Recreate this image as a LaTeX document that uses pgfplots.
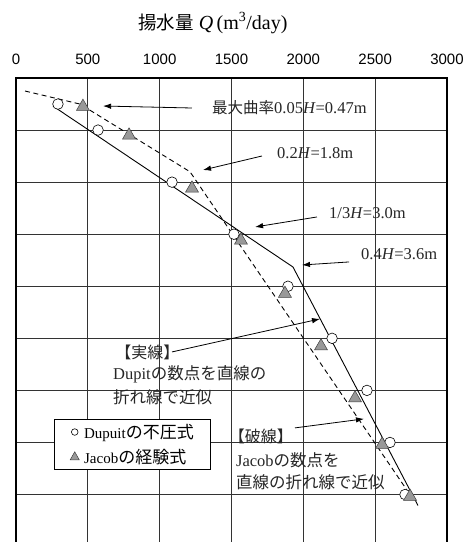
\documentclass[border=0pt]{standalone}
\usepackage{fontspec}
\setmainfont{Liberation Serif}
\setsansfont{Liberation Sans}
\newfontfamily\jp{Noto Sans CJK JP}
\usepackage{pgfplots}
\pgfplotsset{compat=1.18}
\usetikzlibrary{arrows.meta}
\begin{document}
\begin{tikzpicture}
\begin{axis}[name=ax, at={(0,0)}, anchor=north west, scale only axis,
  width=431pt, height=479pt,
  xmin=0, xmax=3000, ymin=0, ymax=9.2, y dir=reverse,
  xtick={0,500,...,3000}, ytick={0,1,...,9}, yticklabels={},
  xticklabel pos=top,
  grid=major, major grid style={black!80, line width=0.8pt},
  tick style={draw=none},
  axis line style={line width=1.8pt},
  xticklabel style={font=\sffamily\fontsize{15}{15}\selectfont, yshift=10pt},
  /pgf/number format/assume math mode=true,
  /pgf/number format/1000 sep={},
  clip=false,
  legend style={at={(axis cs:264,6.545)}, anchor=north west, draw=black, line width=0.8pt,
    fill=white, font=\fontsize{15}{16}\selectfont, cells={anchor=west},
    inner xsep=6pt, inner ysep=3pt, row sep=5pt, legend cell align=left},
]
% approximating lines
\addplot[forget plot, black, line width=0.9pt, mark=none]
  coordinates {(258,0.54) (1928,3.63) (2798,8.21)};
\addplot[forget plot, black, line width=0.9pt, mark=none, dash pattern=on 5pt off 3.5pt]
  coordinates {(63,0.25) (445,0.50) (1211,1.80) (2757,8.06)};
% Dupuit
\addplot[only marks, mark=*, mark size=5.3pt, mark options={fill=white, draw=black, line width=0.6pt},
  legend image code/.code={\path (0pt,0pt) (21pt,0pt); \draw[black, fill=white, line width=0.6pt] (14pt,0pt) circle (3.3pt);}]
  coordinates {(292,0.5) (571,1.0) (1086,2.0) (1517,3.0) (1893,4.0) (2200,5.0) (2443,6.0) (2603,7.0) (2708,8.0)};
\addlegendentry{Dupuit{\jp\fontsize{17}{17}\selectfont の不圧式}\hspace*{9pt}}
% Jacob
\addplot[only marks, mark=triangle*, mark size=7.5pt, mark options={fill=black!40, draw=black!75, line width=0.5pt},
  legend image code/.code={\path (0pt,0pt) (21pt,0pt); \draw[black!75, fill=black!40, line width=0.5pt] (14pt,-3pt) -- (18.5pt,-3pt) -- (14pt,5pt) -- (9.5pt,-3pt) -- cycle;}]
  coordinates {(466,0.55) (787,1.1) (1225,2.12) (1566,3.12) (1872,4.14) (2123,5.15) (2360,6.15) (2548,7.04) (2743,8.04)};
\addlegendentry{Jacob{\jp\fontsize{17}{17}\selectfont の経験式}\hspace*{9pt}}

% title
\node[font=\fontsize{20}{20}\selectfont] at (axis cs:1371,-1.06) {{\jp\fontsize{18.5}{18.5}\selectfont 揚水量} \textit{Q}\,(m\textsuperscript{3}/day)};

% annotations
\begin{scope}[every node/.style={anchor=west, text=black!85, inner sep=0pt, font=\fontsize{16.5}{16.5}\selectfont},
  arr/.style={black, line width=0.8pt, -{Latex[length=8pt,width=5.5pt]}}]
\node at (axis cs:1364,0.576) {{\jp\fontsize{15.5}{15.5}\selectfont 最大曲率}0.05\textit{H}=0.47m};
\draw[arr] (axis cs:1225,0.576) -- (axis cs:606,0.538);
\node at (axis cs:1817,1.44) {0.2\textit{H}=1.8m};
\draw[arr] (axis cs:1712,1.498) -- (axis cs:1302,1.767);
\node at (axis cs:2179,2.59) {1/3\textit{H}=3.0m};
\draw[arr] (axis cs:2095,2.669) -- (axis cs:1664,2.861);
\node at (axis cs:2401,3.38) {0.4\textit{H}=3.6m};
\draw[arr] (axis cs:2318,3.533) -- (axis cs:1991,3.591);

\node at (axis cs:690,5.28) {{\jp\fontsize{16}{16}\selectfont 【実線】}};
\draw[arr] (axis cs:1086,5.261) -- (axis cs:2116,4.627);
\node at (axis cs:675,5.70) {Dupit{\jp\fontsize{16.5}{16.5}\selectfont の数点を直線の}};
\node at (axis cs:675,6.125) {{\jp\fontsize{16.5}{16.5}\selectfont 折れ線で近似}};

\node at (axis cs:1480,6.893) {{\jp\fontsize{16}{16}\selectfont 【破線】}};
\draw[arr] (axis cs:1942,6.72) -- (axis cs:2422,6.547);
\node at (axis cs:1531,7.335) {Jacob{\jp\fontsize{16.5}{16.5}\selectfont の数点を}};
\node at (axis cs:1531,7.757) {{\jp\fontsize{16.5}{16.5}\selectfont 直線の折れ線で近似}};
\end{scope}
\end{axis}
\pgfresetboundingbox
\useasboundingbox (-16pt,78pt) rectangle (448pt,-464pt);
\end{tikzpicture}
\end{document}
